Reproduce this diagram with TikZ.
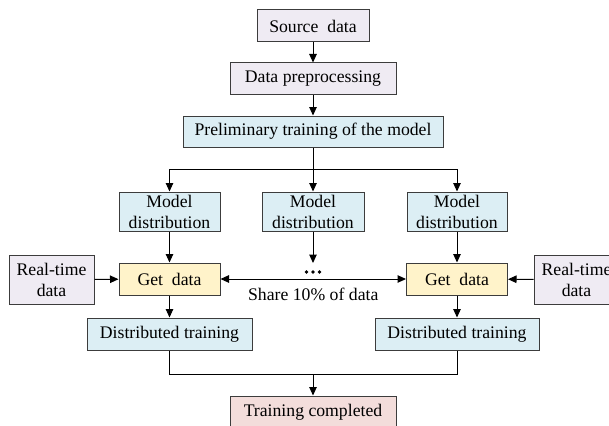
\documentclass[tikz,border=0pt]{standalone}
\usepackage{fontspec}
\setmainfont{Liberation Serif}
\usetikzlibrary{arrows.meta}

\definecolor{edgegray}{HTML}{3C3C3C}
\definecolor{lavfill}{HTML}{EFEBF3}
\definecolor{bluefill}{HTML}{DCEEF4}
\definecolor{yelfill}{HTML}{FFF3CA}
\definecolor{pinkfill}{HTML}{F3DDDB}

\tikzset{
  box/.style={draw=edgegray, line width=1pt, inner sep=0pt, align=center,
    font=\fontsize{17.7}{21}\selectfont},
  lav/.style={box, fill=lavfill},
  blu/.style={box, fill=bluefill},
  yel/.style={box, fill=yelfill},
  pnk/.style={box, fill=pinkfill},
  link/.style={draw=black, line width=1pt},
  arr/.style={link, -{Triangle[length=8.5pt,width=7.5pt]}},
  darr/.style={link, {Triangle[length=8.5pt,width=7.5pt]}-{Triangle[length=8.5pt,width=7.5pt]}},
}

\begin{document}
\begin{tikzpicture}[x=1pt, y=-1pt]
\useasboundingbox (0,0) rectangle (609,425);
\clip (0,0) rectangle (609,425);

% top chain
\node[lav, minimum width=112pt, minimum height=32pt] (src) at (313,26) {Source~ data};
\node[lav, minimum width=166pt, minimum height=32pt] (pre) at (313,79) {Data preprocessing};
\node[blu, minimum width=260pt, minimum height=31pt] (prelim) at (313,131.5) {Preliminary training of the model};

% model distribution
\node[blu, minimum width=101pt, minimum height=39pt] (md1) at (169.5,211.5) {Model\\distribution};
\node[blu, minimum width=102pt, minimum height=39pt] (md2) at (313,211.5) {Model\\distribution};
\node[blu, minimum width=100pt, minimum height=39pt] (md3) at (457,211.5) {Model\\distribution};

% data acquisition row
\node[lav, minimum width=85pt, minimum height=49pt] (rt1) at (51.5,279.5) {Real-time\\data};
\node[yel, minimum width=101pt, minimum height=32pt] (gd1) at (169.5,279) {Get~ data};
\node[yel, minimum width=101pt, minimum height=32pt] (gd2) at (457,279) {Get~ data};
\node[lav, minimum width=85pt, minimum height=49pt] (rt2) at (576.5,279.5) {Real-time\\data};

% distributed training
\node[blu, minimum width=165pt, minimum height=32pt] (dt1) at (169.5,334) {Distributed training};
\node[blu, minimum width=164pt, minimum height=32pt] (dt2) at (457,334) {Distributed training};

\node[pnk, minimum width=166pt, minimum height=32pt] (done) at (313,412) {Training completed};

% helper points
\coordinate (split) at (313,169);
\coordinate (merge) at (313,374);
\coordinate (dots) at (313,272);
\coordinate (dotstop) at (313,263);

% connectors
\draw[arr] (src) -- (pre);
\draw[arr] (pre) -- (prelim);
\draw[link] (prelim) -- (split);
\draw[arr] (split) -| (md1);
\draw[arr] (split) -- (md2);
\draw[arr] (split) -| (md3);

\draw[arr] (md1) -- (gd1);
\draw[arr] (md3) -- (gd2);
\draw[arr] (md2) -- (dotstop);
\foreach \dx in {-6.5,0,6.5} \fill ([xshift=\dx pt]dots) circle (1.8pt);

\draw[arr] (rt1) -- (gd1);
\draw[arr] (rt2) -- (gd2);
\draw[darr] (gd1) -- node[below=5pt, font=\fontsize{17.7}{21}\selectfont] {Share 10\% of data} (gd2);

\draw[arr] (gd1) -- (dt1);
\draw[arr] (gd2) -- (dt2);

\draw[link] (dt1.south) |- (merge);
\draw[link] (dt2.south) |- (merge);
\draw[arr] (merge) -- (done);
\end{tikzpicture}
\end{document}
